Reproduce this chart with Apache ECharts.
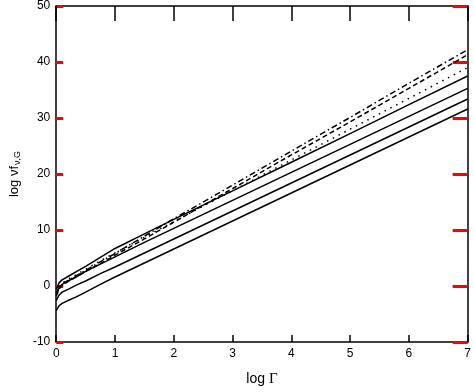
<!DOCTYPE html>
<html>
<head>
<meta charset="utf-8">
<script src="https://cdn.jsdelivr.net/npm/echarts@6/dist/echarts.min.js"></script>
<style>
	html,body{margin:0;padding:0;background:#fff;}
	#chart{width:474px;height:392px;}
</style>
</head>
<body>
<div id="chart"></div>
<script>
// log Gamma samples
var logG = [0, 0.05, 0.1, 0.2, 0.35, 0.5, 0.75, 1, 1.5, 2, 3, 4, 5, 6, 7]
// solid curves, top to bottom
var solid1 = [-0.6, 0.6, 1.1, 1.7, 2.6, 3.5, 5.1, 6.7, 9.3, 11.9, 17.0, 22.1, 27.2, 32.4, 37.5]
var solid2 = [-1.4, -0.2, 0.3, 0.9, 1.7, 2.6, 3.9, 5.2, 7.8, 10.3, 15.3, 20.3, 25.3, 30.3, 35.3]
var solid3 = [-2.6, -1.6, -1.1, -0.6, 0.2, 0.9, 2.2, 3.4, 5.9, 8.4, 13.4, 18.4, 23.4, 28.4, 33.4]
var solid4 = [-4.4, -3.5, -3.1, -2.6, -1.9, -1.1, 0.3, 1.6, 4.1, 6.6, 11.6, 16.6, 21.6, 26.6, 31.6]
// broken curves
var dashdot = [-1.6, -0.3, 0.3, 1.0, 1.9, 2.8, 4.3, 5.8, 8.9, 12.0, 18.0, 24.1, 30.1, 36.2, 42.2]
var dashed = [-1.8, -0.5, 0.1, 0.8, 1.7, 2.6, 4.0, 5.5, 8.4, 11.4, 17.4, 23.4, 29.3, 35.3, 41.3]
var dotted = [-1.2, 0.0, 0.5, 1.2, 2.1, 3.0, 4.5, 5.9, 8.7, 11.5, 17.0, 22.5, 28.0, 33.5, 39.0]

var chart = echarts.init(document.getElementById('chart'))

function pts(ys){
	return logG.map(function(x, i){ return [x, ys[i]] })
}
function line(ys, type){
	return {
		type: 'line',
		data: pts(ys),
		showSymbol: false,
		symbol: 'none',
		silent: true,
		lineStyle: {color: '#000', width: 1.5, type: type}
	}
}

var font = 'Liberation Sans, Arial, sans-serif'

var option = {
	animation: false,
	grid: {left: 53, right: 5, top: 6, bottom: 47},
	xAxis: [
		{
			type: 'value', min: 0, max: 7, interval: 1,
			axisLine: {show: true, onZero: false, lineStyle: {color: '#000', width: 1.5}},
			axisTick: {show: true, inside: true, length: 7, lineStyle: {color: '#000', width: 1.5}},
			splitLine: {show: false},
			axisLabel: {color: '#000', fontSize: 12, fontFamily: font, margin: 6},
			name: '{a|log }{b|Γ}',
			nameLocation: 'middle',
			nameGap: 30,
			nameTextStyle: {
				rich: {
					a: {fontSize: 14, fontFamily: font, color: '#000'},
					b: {fontSize: 15, fontFamily: 'Liberation Serif, Times New Roman, serif', color: '#000'}
				}
			}
		},
		{
			type: 'value', min: 0, max: 7, interval: 1, position: 'top',
			axisLine: {show: true, onZero: false, lineStyle: {color: '#000', width: 1.5}},
			axisTick: {show: true, inside: true, length: 15, lineStyle: {color: '#000', width: 1.5}},
			splitLine: {show: false},
			axisLabel: {show: false}
		}
	],
	yAxis: [
		{
			type: 'value', min: -10, max: 50, interval: 10,
			axisLine: {show: true, onZero: false, lineStyle: {color: '#000', width: 1.5}},
			axisTick: {show: true, inside: true, length: 7, lineStyle: {color: 'red', width: 3}},
			splitLine: {show: false},
			axisLabel: {color: '#000', fontSize: 12, fontFamily: font, margin: 6},
			name: '{a|log νf}{s|ν,G}',
			nameLocation: 'middle',
			nameGap: 33,
			nameTextStyle: {
				rich: {
					a: {fontSize: 13, fontFamily: font, color: '#000'},
					s: {fontSize: 9, fontFamily: font, color: '#000', verticalAlign: 'bottom', padding: [6, 0, 0, 1]}
				}
			}
		},
		{
			type: 'value', min: -10, max: 50, interval: 10, position: 'right',
			axisLine: {show: true, onZero: false, lineStyle: {color: '#000', width: 1.5}},
			axisTick: {show: true, inside: true, length: 15, lineStyle: {color: 'red', width: 3}},
			splitLine: {show: false},
			axisLabel: {show: false}
		}
	],
	series: [
		line(solid1, 'solid'),
		line(solid2, 'solid'),
		line(solid3, 'solid'),
		line(solid4, 'solid'),
		line(dashdot, [6, 3, 1.5, 3]),
		line(dashed, [5, 3]),
		line(dotted, [1.5, 5])
	]
}
chart.setOption(option)
</script>
</body>
</html>
